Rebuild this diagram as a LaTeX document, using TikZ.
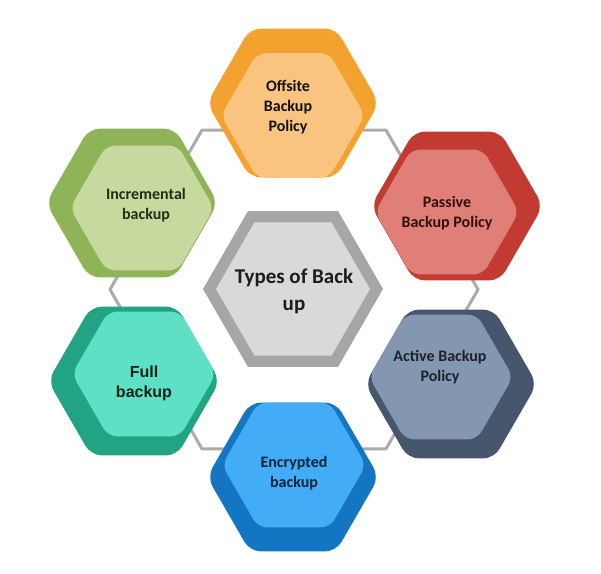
\documentclass[tikz,border=0pt]{standalone}
\usepackage{fontspec}
\setmainfont{Carlito}
\newfontfamily\arialfont{Liberation Sans}
\definecolor{outlinegray}{HTML}{ABABAB}
\definecolor{cborder}{HTML}{A6A6A6}
\definecolor{cfill}{HTML}{D9D9D9}
\definecolor{offD}{HTML}{F3A22F}
\definecolor{offL}{HTML}{F8C47F}
\definecolor{pasD}{HTML}{C23B33}
\definecolor{pasL}{HTML}{E07E78}
\definecolor{actD}{HTML}{46566C}
\definecolor{actL}{HTML}{8497B0}
\definecolor{encD}{HTML}{1475C2}
\definecolor{encL}{HTML}{42ACF6}
\definecolor{fulD}{HTML}{22A383}
\definecolor{fulL}{HTML}{5DE0C3}
\definecolor{incD}{HTML}{8FB457}
\definecolor{incL}{HTML}{C6DAA0}
\definecolor{txt}{HTML}{1C1C1C}
\newcommand{\hexshape}[4]{%
  \path[#4,shift={(#1,#2)}] (0,{#3*0.8660}) -- (60:#3) -- (0:#3) -- (-60:#3)
    -- (-120:#3) -- (180:#3) -- (120:#3) -- cycle;}
\tikzset{
  darkhex/.style={fill=#1,rounded corners=11pt},
  lighthex/.style={fill=#1,rounded corners=9pt},
  lbl/.style={align=center,font=\bfseries\fontsize{16}{20}\selectfont,text=#1,inner sep=0pt},
}
\begin{document}
\begin{tikzpicture}[x=1pt,y=-1pt]
\useasboundingbox (0,0) rectangle (601,573);
\fill[white] (0,0) rectangle (601,573);
% outline hexagon behind the tiles
\coordinate (oc) at (294,289.5);
\draw[outlinegray,line width=3pt,line join=round,shift={(294,289.5)}]
  (0,{184*0.866}) -- (60:184) -- (0:184) -- (-60:184) -- (-120:184) -- (180:184) -- (120:184) -- cycle;
% centre
\hexshape{293}{289}{90}{fill=cborder}
\hexshape{293}{289}{77}{fill=cfill}
\node[lbl=txt,font=\bfseries\fontsize{21}{27}\selectfont] (center) at (294,291) {Types of Back\\up};
% Offsite
\hexshape{293}{103}{86}{darkhex=offD}
\hexshape{293}{115.5}{72}{lighthex=offL}
\node[lbl=txt!90!offD!40!black] (offsite) at (288,107) {Offsite\\Backup\\Policy};
% Passive
\hexshape{457}{206}{86}{darkhex=pasD}
\hexshape{447}{212}{72}{lighthex=pasL}
\node[lbl={pasD!25!black}] (passive) at (447,213) {Passive\\Backup Policy};
% Active
\hexshape{451}{384}{86}{darkhex=actD}
\hexshape{441}{377}{72}{lighthex=actL}
\node[lbl={actD!40!black}] (active) at (440,367) {Active Backup\\Policy};
% Encrypted
\hexshape{293}{477}{86}{darkhex=encD}
\hexshape{294}{465}{72}{lighthex=encL}
\node[lbl={encD!30!black}] (encrypted) at (294,473) {Encrypted\\backup};
% Full
\hexshape{134}{381}{86}{darkhex=fulD}
\hexshape{144}{374}{72}{lighthex=fulL}
\node[lbl={fulD!20!black},font=\arialfont\bfseries\fontsize{16}{20}\selectfont] (full) at (144,383) {Full\\backup};
% Incremental
\hexshape{132}{203}{86}{darkhex=incD}
\hexshape{142}{208}{72}{lighthex=incL}
\node[lbl={incD!25!black}] (incremental) at (146,205) {Incremental\\backup};
\end{tikzpicture}
\end{document}
